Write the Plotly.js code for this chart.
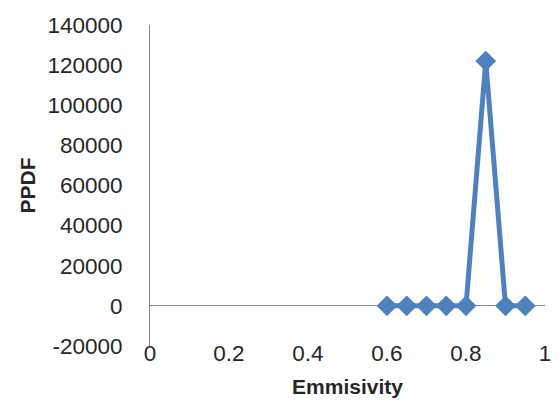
<!DOCTYPE html>
<html>
<head>
<script src="https://cdn.plot.ly/plotly-3.0.1.min.js"></script>
<style>html,body{margin:0;padding:0;background:#fff;}#chart{width:558px;height:400px;}</style>
</head>
<body>
<div id="chart"></div>
<script>
const emissivity = [0.6, 0.65, 0.7, 0.75, 0.8, 0.85, 0.9, 0.95];
const ppdf = [0, 0, 0, 0, 0, 122000, 0, 0];
const xTicks = [0, 0.2, 0.4, 0.6, 0.8, 1];
const xTickLabels = ['0', '0.2', '0.4', '0.6', '0.8', '1'];
const yTicks = [-20000, 0, 20000, 40000, 60000, 80000, 100000, 120000, 140000];
const yTickLabels = ['-20000', '0', '20000', '40000', '60000', '80000', '100000', '120000', '140000'];

const font = {family: 'Liberation Sans, Arial, sans-serif', size: 22.5, color: '#262626'};

Plotly.newPlot('chart', [{
  x: emissivity, y: ppdf, type: 'scatter', mode: 'lines+markers',
  line: {color: '#4F81BD', width: 5},
  marker: {symbol: 'diamond', size: 16, color: '#4F81BD'}
}], {
  width: 558, height: 400,
  margin: {l: 150, r: 13, t: 25, b: 54},
  paper_bgcolor: '#fff', plot_bgcolor: '#fff',
  font: font,
  showlegend: false,
  xaxis: {
    range: [0, 1], tickvals: xTicks, ticktext: xTickLabels,
    showgrid: false, zeroline: false, showline: false,
    ticks: '', ticklabelstandoff: -9,
    tickfont: font,
    title: {text: '<b>Emmisivity</b>', font: {family: font.family, size: 21, color: '#262626'}, standoff: 14}
  },
  yaxis: {
    range: [-20000, 140000], tickvals: yTicks, ticktext: yTickLabels,
    showgrid: false, zeroline: true, zerolinecolor: '#868686', zerolinewidth: 1,
    showline: true, linecolor: '#868686', linewidth: 1,
    ticks: '', ticklabelstandoff: 22,
    tickfont: font,
    title: {text: '<b>PPDF</b>', font: {family: font.family, size: 21, color: '#262626'}, standoff: 6}
  }
}, {displayModeBar: false, staticPlot: true});
</script>
</body>
</html>
